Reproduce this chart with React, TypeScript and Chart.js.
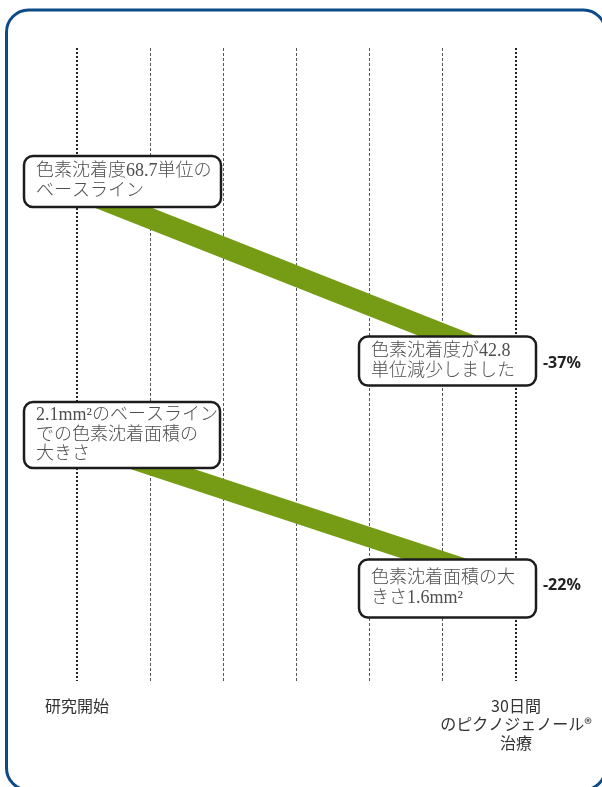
import { useEffect, useRef } from 'react';
import { Chart, registerables } from 'chart.js';

Chart.register(...registerables);

// ---- data ----
const days = [0, 30];
const pigmentIntensity = [68.7, 42.8];
const pigmentArea = [2.1, 1.6];
const xTicks = [0, 5, 10, 15, 20, 25, 30];
const startLabel = ['研究開始'];
const endLabel = ['30日間', 'のピクノジェノール®', '治療'];
const intensityNotes = [
  ['色素沈着度68.7単位の', 'ベースライン'],
  ['色素沈着度が42.8', '単位減少しました'],
];
const areaNotes = [
  ['2.1mm²のベースライン', 'での色素沈着面積の', '大きさ'],
  ['色素沈着面積の大', 'きさ1.6mm²'],
];
const reductions = ['-37%', '-22%'];

// ---- layout of callout boxes, relative to the data point they belong to ----
const BOXES = [
  { ds: 0, pt: 0, dx: -53, dy: -33.5, w: 197, h: 51 },
  { ds: 0, pt: 1, dx: -157, dy: -26.5, w: 177, h: 49 },
  { ds: 1, pt: 0, dx: -53, dy: -39, w: 196, h: 66 },
  { ds: 1, pt: 1, dx: -157, dy: -26, w: 177, h: 58 },
];

const GREEN = '#769c15';
const FRAME = '#0c4b87';

const framePlugin = {
  id: 'frame',
  beforeDraw(chart: any) {
    const ctx = chart.ctx;
    ctx.save();
    ctx.fillStyle = '#ffffff';
    ctx.fillRect(0, 0, chart.width, chart.height);
    ctx.beginPath();
    ctx.roundRect(6.5, 10, 599, 780, 22);
    ctx.lineWidth = 3;
    ctx.strokeStyle = FRAME;
    ctx.stroke();
    ctx.restore();
  },
};

const notesPlugin = {
  id: 'notes',
  afterDatasetsDraw(chart: any) {
    const ctx = chart.ctx;
    const notes = [intensityNotes, areaNotes];
    BOXES.forEach((b) => {
      const el = chart.getDatasetMeta(b.ds).data[b.pt];
      const x = el.x + b.dx;
      const y = el.y + b.dy;
      ctx.save();
      ctx.beginPath();
      ctx.roundRect(x, y, b.w, b.h, 9);
      ctx.fillStyle = '#ffffff';
      ctx.fill();
      ctx.lineWidth = 2.5;
      ctx.strokeStyle = '#1c1c1c';
      ctx.stroke();
      const lines = notes[b.ds][b.pt];
      ctx.font = "300 18px 'Liberation Serif', 'Noto Sans CJK JP', serif";
      ctx.fillStyle = '#4e4e4e';
      ctx.textBaseline = 'middle';
      ctx.textAlign = 'left';
      const lh = 19.5;
      const cy = y + b.h / 2;
      lines.forEach((t, i) => {
        ctx.fillText(t, x + 12, cy + (i - (lines.length - 1) / 2) * lh);
      });
      ctx.restore();
    });
    [0, 1].forEach((ds) => {
      const el = chart.getDatasetMeta(ds).data[1];
      ctx.save();
      ctx.font = "bold 16px 'Noto Sans', 'Open Sans', sans-serif";
      ctx.fillStyle = '#222222';
      ctx.textBaseline = 'middle';
      ctx.textAlign = 'left';
      ctx.fillText(reductions[ds], el.x + 27, el.y);
      ctx.restore();
    });
  },
};

const isEdge = (v: number) => v === days[0] || v === days[days.length - 1];

export default function App() {
  const ref = useRef<HTMLCanvasElement | null>(null);
  useEffect(() => {
    if (!ref.current) return;
    const chart = new Chart(ref.current, {
      type: 'line',
      data: {
        datasets: [
          {
            label: '色素沈着度',
            data: days.map((d, i) => ({ x: d, y: pigmentIntensity[i] })),
            yAxisID: 'y',
            borderColor: GREEN,
            borderWidth: 21,
            borderCapStyle: 'butt',
            pointRadius: 0,
            fill: false,
          },
          {
            label: '色素沈着面積',
            data: days.map((d, i) => ({ x: d, y: pigmentArea[i] })),
            yAxisID: 'y2',
            borderColor: GREEN,
            borderWidth: 20,
            borderCapStyle: 'butt',
            pointRadius: 0,
            fill: false,
          },
        ],
      },
      options: {
        animation: false,
        responsive: false,
        events: [],
        layout: { padding: { left: 77, right: 86, top: 48, bottom: 19 } },
        plugins: { legend: { display: false }, tooltip: { enabled: false } },
        scales: {
          x: {
            type: 'linear',
            min: days[0],
            max: days[days.length - 1],
            afterBuildTicks: (s: any) => {
              s.ticks = xTicks.map((v) => ({ value: v }));
            },
            afterFit: (s: any) => {
              s.paddingLeft = 0;
              s.paddingRight = 0;
            },
            grid: {
              drawTicks: false,
              color: (c: any) => (isEdge(c.tick?.value) ? '#222222' : '#555555'),
              lineWidth: (c: any) => (isEdge(c.tick?.value) ? 2 : 1),
              borderDash: (c: any) => (isEdge(c.tick?.value) ? [2, 2] : [3, 2]),
            } as any,
            border: {
              display: false,
              dash: (c: any) => (isEdge(c.tick?.value) ? [2, 2] : [3, 2]),
            } as any,
            ticks: {
              padding: 16,
              maxRotation: 0,
              autoSkip: false,
              color: '#333333',
              font: { family: "'Noto Sans CJK JP', sans-serif", size: 16, lineHeight: 1.15 },
              callback: (v: any) =>
                v === days[0] ? startLabel : v === days[days.length - 1] ? endLabel : '',
            },
          },
          y: { display: false, min: -4.6, max: 89.8 },
          y2: { display: false, min: 1.27, max: 3.46 },
        },
      },
      plugins: [framePlugin, notesPlugin],
    } as any);
    return () => chart.destroy();
  }, []);
  return (
    <div style={{ position: 'absolute', left: 0, top: 0, width: 602, height: 787 }}>
      <canvas ref={ref} width={602} height={787} style={{ display: 'block' }} />
    </div>
  );
}
